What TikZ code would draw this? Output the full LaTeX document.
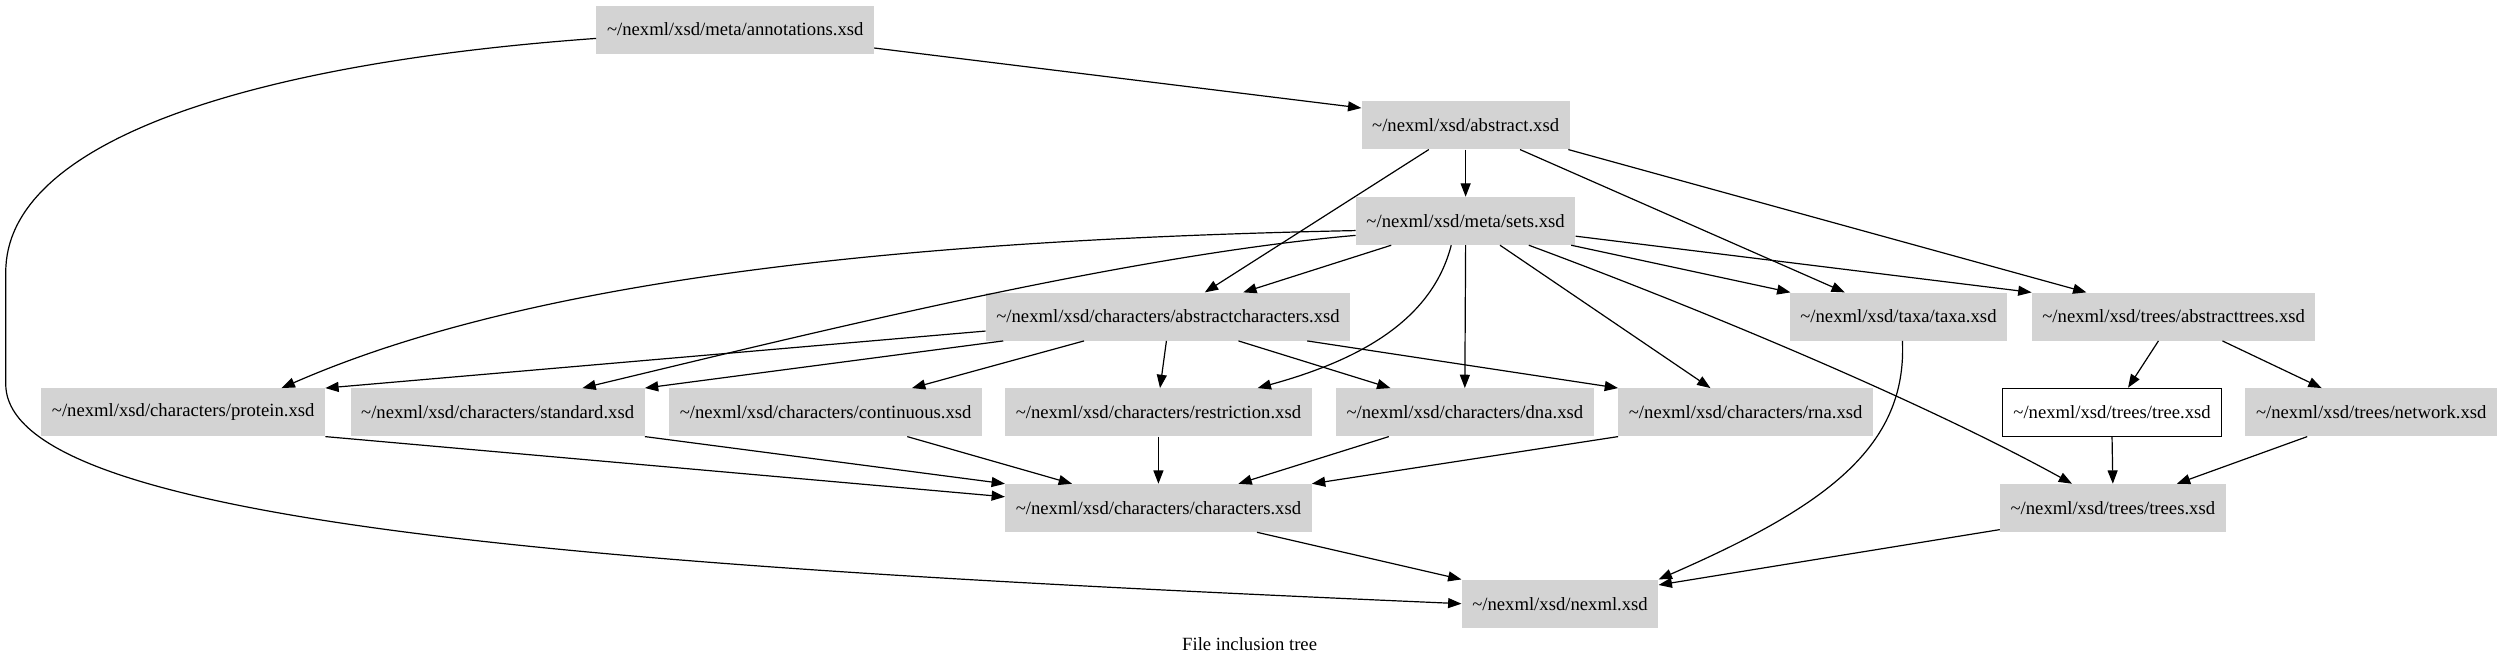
\documentclass[tikz,border=0pt]{standalone}
\usepackage{fontspec}
\setmainfont{Liberation Serif}
\usetikzlibrary{arrows.meta,calc}
\definecolor{nodegray}{HTML}{D3D3D3}
\begin{document}
\begin{tikzpicture}[x=1.2pt,y=-1.2pt,
  file/.style={fill=nodegray, draw=none, minimum height=36pt, inner xsep=7.92pt, inner ysep=0pt,
    font=\fontsize{14pt}{16pt}\selectfont, anchor=center},
  whitefile/.style={file, fill=white, draw=black, line width=0.9pt},
  edge/.style={line width=0.9pt, -{Triangle[length=10pt,width=7.5pt]}},
  caption/.style={font=\fontsize{14pt}{16pt}\selectfont, inner sep=0pt}
]
\useasboundingbox (0,0) rectangle (1563.1,415);

% nodes
\node[file] (annot) at (459.5,18.5) {\textasciitilde/nexml/xsd/meta/annotations.xsd};
\node[file] (abstract) at (916,78.3) {\textasciitilde/nexml/xsd/abstract.xsd};
\node[file] (sets) at (916,138.1) {\textasciitilde/nexml/xsd/meta/sets.xsd};
\node[file] (abschars) at (730,197.9) {\textasciitilde/nexml/xsd/characters/abstractcharacters.xsd};
\node[file] (taxa) at (1186.5,197.9) {\textasciitilde/nexml/xsd/taxa/taxa.xsd};
\node[file] (abstrees) at (1358.5,197.9) {\textasciitilde/nexml/xsd/trees/abstracttrees.xsd};
\node[file] (protein) at (114.5,257.7) {\textasciitilde/nexml/xsd/characters/protein.xsd};
\node[file] (standard) at (311,257.7) {\textasciitilde/nexml/xsd/characters/standard.xsd};
\node[file] (continuous) at (516,257.7) {\textasciitilde/nexml/xsd/characters/continuous.xsd};
\node[file] (restriction) at (724,257.7) {\textasciitilde/nexml/xsd/characters/restriction.xsd};
\node[file] (dna) at (915.5,257.7) {\textasciitilde/nexml/xsd/characters/dna.xsd};
\node[file] (rna) at (1091,257.7) {\textasciitilde/nexml/xsd/characters/rna.xsd};
\node[whitefile] (tree) at (1320,257.7) {\textasciitilde/nexml/xsd/trees/tree.xsd};
\node[file] (network) at (1482,257.7) {\textasciitilde/nexml/xsd/trees/network.xsd};
\node[file] (characters) at (724,317.5) {\textasciitilde/nexml/xsd/characters/characters.xsd};
\node[file] (trees) at (1320.5,317.5) {\textasciitilde/nexml/xsd/trees/trees.xsd};
\node[file] (nexml) at (975,377.3) {\textasciitilde/nexml/xsd/nexml.xsd};
\node[caption] (cap) at (781,402.5) {File inclusion tree};

% edges
\draw[edge] ($(annot.east)+(0,11.5)$) -- ($(abstract.west)+(0,-10.8)$);
\draw[edge] ($(annot.west)+(0,5.5)$) .. controls (150,40) and (3.6,90) .. (3.6,170)
  -- (3.6,240) .. controls (3.6,330) and (400,355) .. (nexml.west);
\draw[edge] (abstract.south) -- (sets.north);
\draw[edge] ($(abstract.south)+(-23,0)$) -- ($(abschars.north)+(23,0)$);
\draw[edge] ($(abstract.south)+(34,0)$) -- ($(taxa.north)+(-33.5,0)$);
\draw[edge] ($(abstract.south east)+(-1,0)$) -- ($(abstrees.north)+(-54.5,0)$);

\draw[edge] ($(sets.west)+(0,6)$) .. controls (560,150) and (330,175) .. ($(protein.north)+(61.5,0)$);
\draw[edge] ($(sets.west)+(0,9)$) .. controls (700,160) and (500,210) .. ($(standard.north)+(53,0)$);
\draw[edge] ($(sets.south)+(-46.5,0)$) -- ($(abschars.north)+(47,0)$);
\draw[edge] ($(sets.south)+(-9,0)$) .. controls (895,200) and (850,225) .. ($(restriction.north)+(62,0)$);
\draw[edge] (sets.south) -- (dna.north);
\draw[edge] ($(sets.south)+(21.5,0)$) -- ($(rna.north)+(-22,0)$);
\draw[edge] ($(sets.south)+(66,0)$) -- ($(taxa.north)+(-67.5,0)$);
\draw[edge] ($(sets.east)+(0,9.5)$) -- (abstrees.north west);
\draw[edge] ($(sets.south)+(39.5,0)$) .. controls (1060,192) and (1200,250) .. ($(trees.north)+(-25.5,0)$);

\draw[edge] ($(abschars.west)+(0,9)$) -- (protein.north east);
\draw[edge] ($(abschars.south)+(-103,0)$) -- (standard.north east);
\draw[edge] ($(abschars.south)+(-52.5,0)$) -- ($(continuous.north)+(54,0)$);
\draw[edge] ($(abschars.south)+(-1,0)$) -- ($(restriction.north)+(1,0)$);
\draw[edge] ($(abschars.south)+(44,0)$) -- ($(dna.north)+(-46.5,0)$);
\draw[edge] ($(abschars.south)+(87,0)$) -- (rna.north west);

\draw[edge] ($(abstrees.south)+(-9.5,0)$) -- ($(tree.north)+(10,0)$);
\draw[edge] ($(abstrees.south)+(30.5,0)$) -- ($(network.north)+(-31,0)$);

\draw[edge] (protein.south east) -- ($(characters.west)+(0,-7)$);
\draw[edge] (standard.south east) -- (characters.north west);
\draw[edge] ($(continuous.south)+(51,0)$) -- ($(characters.north)+(-54,0)$);
\draw[edge] (restriction.south) -- (characters.north);
\draw[edge] ($(dna.south)+(-47.5,0)$) -- ($(characters.north)+(50,0)$);
\draw[edge] (rna.south west) -- (characters.north east);

\draw[edge] (tree.south) -- (trees.north);
\draw[edge] ($(network.south)+(-40,0)$) -- ($(trees.north)+(40,0)$);

\draw[edge] ($(characters.south)+(61.6,0)$) -- (nexml.north west);
\draw[edge] ($(trees.west)+(0,13.5)$) -- ($(nexml.east)+(0,-11.7)$);
\draw[edge] ($(taxa.south)+(2.5,0)$) .. controls (1192,280) and (1140,317) .. (nexml.north east);
\end{tikzpicture}
\end{document}
